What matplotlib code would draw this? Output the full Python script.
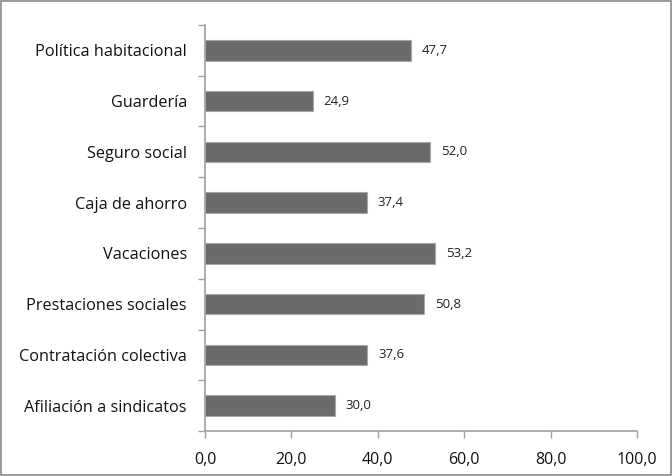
import matplotlib.pyplot as plt
from matplotlib.ticker import FuncFormatter

categorias = ['Afiliación a sindicatos', 'Contratación colectiva', 'Prestaciones sociales',
              'Vacaciones', 'Caja de ahorro', 'Seguro social', 'Guardería',
              'Política habitacional']
valores = [30.0, 37.6, 50.8, 53.2, 37.4, 52.0, 24.9, 47.7]
xticks = [0, 20, 40, 60, 80, 100]

plt.rcParams['font.family'] = ['Open Sans', 'DejaVu Sans']

fig = plt.figure(figsize=(6.72, 4.76), dpi=100)
ax = fig.add_axes([0.305, 0.0945, 0.643, 0.853])

pos = list(range(len(categorias)))
ax.barh(pos, valores, height=0.4, color='#6b6b6b', edgecolor='#a8a8a8', linewidth=0.8)

for p, v in zip(pos, valores):
    ax.annotate(('%.1f' % v).replace('.', ','), xy=(v, p), xytext=(8, 0),
                textcoords='offset points', va='center', ha='left',
                fontsize=9.5, color='#222222')

ax.set_xlim(0, 100)
ax.set_ylim(-0.5, len(categorias) - 0.5)
ax.set_xticks(xticks)
ax.xaxis.set_major_formatter(FuncFormatter(lambda x, _: ('%.1f' % x).replace('.', ',')))

# etiquetas en el centro, marcas entre categorias
ax.set_yticks(pos)
ax.set_yticklabels(categorias)
ax.tick_params(axis='y', which='major', length=0, pad=13, labelsize=11.7, labelcolor='#111111')
ax.set_yticks([i - 0.5 for i in range(len(categorias) + 1)], minor=True)
ax.tick_params(axis='y', which='minor', length=5, color='#a0a0a0', width=1)
ax.tick_params(axis='x', length=5, color='#a0a0a0', width=1, labelsize=11.5,
               labelcolor='#111111', pad=10)

for s in ['top', 'right']:
    ax.spines[s].set_visible(False)
for s in ['left', 'bottom']:
    ax.spines[s].set_color('#a0a0a0')
    ax.spines[s].set_linewidth(1.2)

# marco de la figura
fig.patches.append(plt.Rectangle((0.002, 0.003), 0.996, 0.994, transform=fig.transFigure,
                                 fill=False, edgecolor='#8a8a8a', linewidth=1.2))

fig.savefig('out.png', dpi=100)
